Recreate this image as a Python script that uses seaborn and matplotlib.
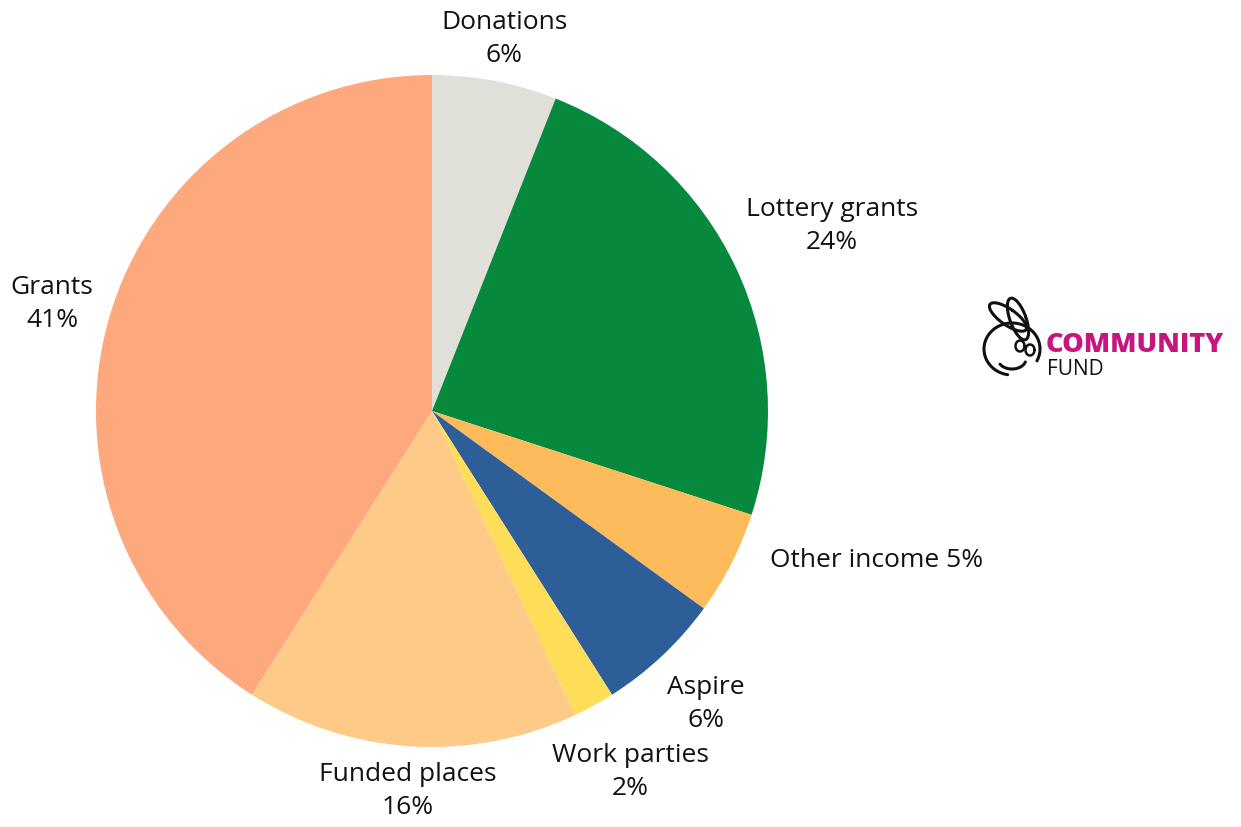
import matplotlib
matplotlib.use("Agg")
import matplotlib.pyplot as plt
import seaborn as sns
import numpy as np

categories = ["Donations", "Lottery grants", "Other income", "Aspire",
              "Work parties", "Funded places", "Grants"]
shares = [6, 24, 5, 6, 2, 16, 41]
label_texts = ["Donations\n6%", "Lottery grants\n24%", "Other income 5%",
               "Aspire\n6%", "Work parties\n2%", "Funded places\n16%",
               "Grants\n41%"]
colors = ["#E0DFD8", "#06893D", "#FDBB5C", "#2E5E97", "#FEDD58", "#FECA87", "#FEA87E"]

sns.set_theme(style="white")
plt.rcParams['font.family'] = ['Open Sans', 'DejaVu Sans']

W, H = 1241, 828
CX, CY, R = 432, 412, 336
fig = plt.figure(figsize=(W / 100, H / 100), dpi=100)
ax = fig.add_axes([0, 0, 1, 1])
ax.pie(shares, colors=colors, startangle=90, counterclock=False,
       radius=1.0, center=(0, 0), wedgeprops=dict(linewidth=0))
ax.set_xlim(-CX / R, (W - CX) / R)
ax.set_ylim(-(H - CY) / R, CY / R)
ax.set_aspect("auto")
ax.axis("off")

def px(x, y):
    return (x - CX) / R, (CY - y) / R

# label centres in pixel space
label_pos = [(504, 39), (832, 226), (877, 561), (706, 704),
             (630, 772), (408, 791), (52, 304)]
for txt, (lx, ly) in zip(label_texts, label_pos):
    x, y = px(lx, ly)
    ax.text(x, y, txt, ha="center", va="center", fontsize=19,
            color="#111111", linespacing=1.45)

# logo text
x, y = px(1046, 345)
ax.text(x, y, "COMMUNITY", ha="left", va="center", fontsize=19.5,
        fontweight="heavy", color="#C8147F")
x, y = px(1047, 370)
ax.text(x, y, "FUND", ha="left", va="center", fontsize=15, color="#111111")

# simplified crossed-fingers mark
def line(xs, ys, lw=2.2):
    xs = np.asarray(xs, float); ys = np.asarray(ys, float)
    ax.plot((xs - CX) / R, (CY - ys) / R, color="#111111", lw=lw,
            solid_capstyle="round", solid_joinstyle="round")
t = np.linspace(0.55 * np.pi, 2.15 * np.pi, 80)
line(1012 + 28 * np.cos(t), 350 + 26 * np.sin(t))
f = np.linspace(0, 2 * np.pi, 60)
ang = np.deg2rad(-55)
fx = 8 * np.cos(f); fy = 22 * np.sin(f)
line(1008 + fx * np.cos(ang) - fy * np.sin(ang), 318 + fx * np.sin(ang) + fy * np.cos(ang))
ang2 = np.deg2rad(-20)
line(1018 + fx * np.cos(ang2) - fy * np.sin(ang2), 320 + fx * np.sin(ang2) + fy * np.cos(ang2))
e = np.linspace(0, 2 * np.pi, 40)
line(1020 + 4.5 * np.cos(e), 347 + 5.5 * np.sin(e), 1.8)
line(1030 + 4.5 * np.cos(e), 351 + 5.5 * np.sin(e), 1.8)
s = np.linspace(0.3, 2.6, 30)
line(1012 + 14 * np.cos(s), 360 + 10 * np.sin(s))

fig.savefig("out.png", dpi=100, facecolor="white")
